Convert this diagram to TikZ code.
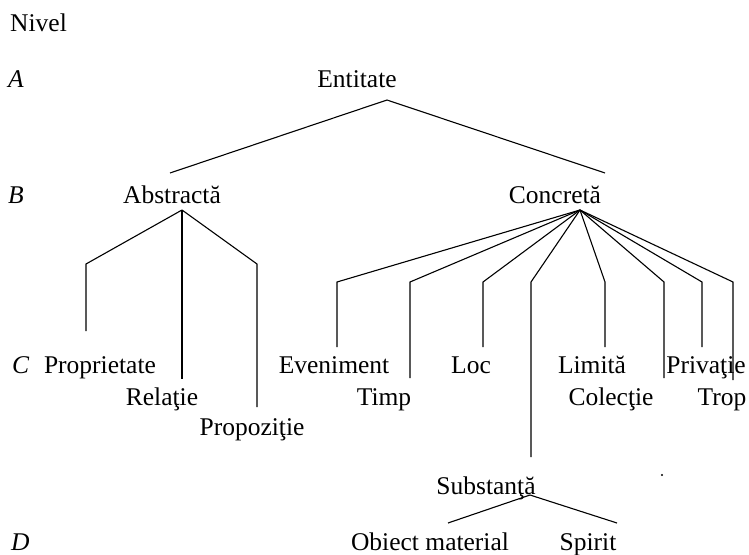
\documentclass[tikz,border=0pt]{standalone}
\usepackage{fontspec}
\setmainfont{Liberation Serif}
\begin{document}
\begin{tikzpicture}[x=1pt,y=-1pt,
  lbl/.style={inner sep=0pt,anchor=base,font=\fontsize{25.5}{30}\selectfont},
  lvl/.style={inner sep=0pt,anchor=base west,font=\fontsize{25.5}{30}\selectfont\itshape},
  conn/.style={line width=1.1pt,line join=miter}]
\useasboundingbox (0,0) rectangle (749,554);
% level labels
\node[lvl,font=\fontsize{25.5}{30}\selectfont] (nivel) at (10,31) {Nivel};
\node[lvl] (la) at (8,87) {A};
\node[lvl] (lb) at (8,203) {B};
\node[lvl] (lc) at (12,373) {C};
\node[lvl] (ld) at (11,550) {D};
% nodes
\node[lbl] (ent) at (357,87) {Entitate};
\node[lbl] (abs) at (172,203) {Abstractă};
\node[lbl] (con) at (555,203) {Concretă};
\node[lbl] (prop) at (100,373) {Proprietate};
\node[lbl] (rel) at (162,405) {Relaţie};
\node[lbl] (pzt) at (252,435) {Propoziţie};
\node[lbl] (eve) at (334,373) {Eveniment};
\node[lbl] (timp) at (384,405) {Timp};
\node[lbl] (loc) at (471,373) {Loc};
\node[lbl] (lim) at (592,373) {Limită};
\node[lbl] (col) at (611,405) {Colecţie};
\node[lbl] (priv) at (706,373) {Privaţie};
\node[lbl] (trop) at (722,405) {Trop};
\node[lbl] (sub) at (486,494) {Substanţă};
\node[lbl] (obj) at (430,550) {Obiect material};
\node[lbl] (spi) at (588,550) {Spirit};
% connector points
\coordinate (entA) at (387,100);
\coordinate (absT) at (170,173);
\coordinate (conT) at (605,173);
\coordinate (absA) at (182,210);
\coordinate (conA) at (580,210);
\coordinate (rowAbs) at (0,264);
\coordinate (rowCon) at (0,282);
\coordinate (propE) at (86,331);
\coordinate (relE) at (182,379);
\coordinate (pztE) at (257,407);
\coordinate (eveE) at (337,347);
\coordinate (timpE) at (410,378);
\coordinate (locE) at (483,347);
\coordinate (subE) at (531,457);
\coordinate (limE) at (605,347);
\coordinate (colE) at (664,378);
\coordinate (privE) at (702,347);
\coordinate (tropE) at (733,380);
\coordinate (subA) at (530,495);
\coordinate (objE) at (448,523);
\coordinate (spiE) at (617,523);
% connectors
\draw[conn] (absT) -- (entA) -- (conT);
\draw[conn] (absA) -- (propE |- rowAbs) -- (propE);
\draw[conn] (absA) -- (relE);
\draw[conn] (absA) -- (pztE |- rowAbs) -- (pztE);
\foreach \e in {eveE,timpE,locE,subE,limE,colE,privE,tropE}
  \draw[conn] (conA) -- (\e |- rowCon) -- (\e);
\draw[conn] (objE) -- (subA) -- (spiE);
% stray dot
\fill (662,475) circle (1.1pt);
\end{tikzpicture}
\end{document}
